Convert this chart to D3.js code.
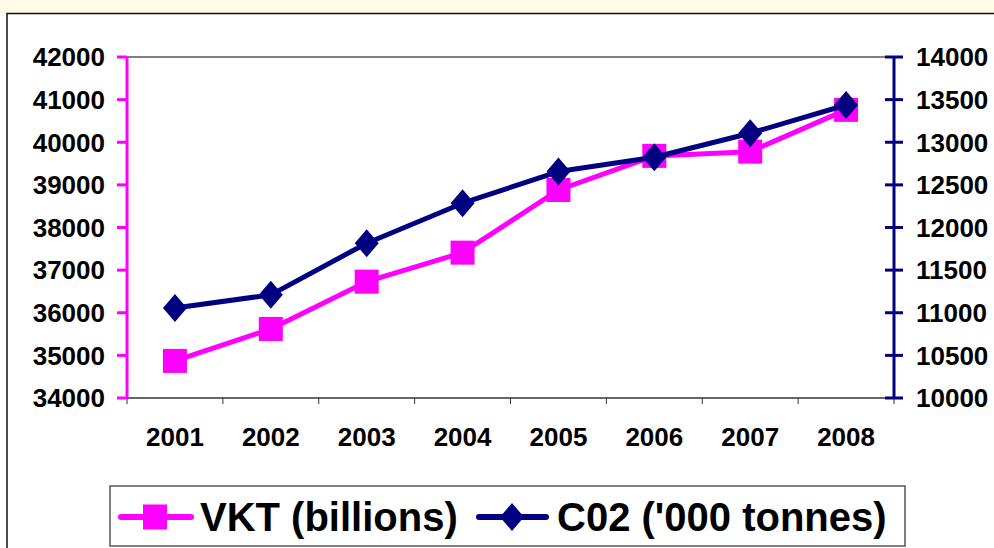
<!DOCTYPE html>
<html><head><meta charset="utf-8">
<script src="https://cdn.jsdelivr.net/npm/d3@7"></script>
<style>body{margin:0;background:#fff;}svg{display:block;font-family:"Liberation Sans",Arial,sans-serif;}</style>
</head><body><svg id="c" width="994" height="548"></svg>
<script>
const years = ["2001","2002","2003","2004","2005","2006","2007","2008"];
const vkt = [34870, 35620, 36730, 37410, 38880, 39680, 39780, 40760];
const co2 = [11055, 11210, 11816, 12285, 12656, 12824, 13106, 13437];
const leftTicks = [34000,35000,36000,37000,38000,39000,40000,41000,42000];
const rightTicks = [10000,10500,11000,11500,12000,12500,13000,13500,14000];
const seriesNames = ["VKT (billions)", "C02 ('000 tonnes)"];
const PINK = "#ff00ff", NAVY = "#000080";

const svg = d3.select("#c");
svg.append("rect").attr("x",0).attr("y",0).attr("width",994).attr("height",13).attr("fill","#fffbe8");
svg.append("path").attr("d","M7,548V13.5H994").attr("fill","none").attr("stroke","#111").attr("stroke-width",1.5);

const L=127, R=894, T=57, B=398;
const x = d3.scaleBand().domain(years).range([L,R]);
const yL = d3.scaleLinear().domain([34000,42000]).range([B,T]);
const yR = d3.scaleLinear().domain([10000,14000]).range([B,T]);

// plot area top border
svg.append("line").attr("x1",L).attr("x2",R).attr("y1",T).attr("y2",T).attr("stroke","#808080").attr("stroke-width",2);

// x axis
const gx = svg.append("g").attr("transform",`translate(0,${B})`);
gx.append("line").attr("x1",L).attr("x2",R).attr("stroke","#333").attr("stroke-width",1.5);
const bounds = years.map(d=>x(d)).concat([R]);
gx.selectAll("line.t").data(bounds).join("line").attr("class","t")
  .attr("x1",d=>d).attr("x2",d=>d).attr("y1",0).attr("y2",6).attr("stroke","#333").attr("stroke-width",1);
gx.selectAll("text").data(years).join("text")
  .attr("x",d=>x(d)+x.bandwidth()/2).attr("y",39).attr("dy","0.36em")
  .attr("text-anchor","middle").attr("font-size",26).attr("font-weight","bold").text(d=>d);

// left axis
const gl = svg.append("g");
gl.append("line").attr("x1",L).attr("x2",L).attr("y1",T).attr("y2",B).attr("stroke",PINK).attr("stroke-width",3);
gl.selectAll("line.t").data(leftTicks).join("line").attr("class","t")
  .attr("x1",L-10).attr("x2",L).attr("y1",d=>yL(d)).attr("y2",d=>yL(d)).attr("stroke",PINK).attr("stroke-width",3);
gl.selectAll("text").data(leftTicks).join("text")
  .attr("x",105).attr("y",d=>yL(d)).attr("dy","0.36em").attr("text-anchor","end")
  .attr("font-size",26).attr("font-weight","bold").text(d=>d);

// right axis
const gr = svg.append("g");
gr.append("line").attr("x1",R).attr("x2",R).attr("y1",T).attr("y2",B).attr("stroke",NAVY).attr("stroke-width",3);
gr.selectAll("line.t").data(rightTicks).join("line").attr("class","t")
  .attr("x1",R-9).attr("x2",R+9).attr("y1",d=>yR(d)).attr("y2",d=>yR(d)).attr("stroke",NAVY).attr("stroke-width",3);
gr.selectAll("text").data(rightTicks).join("text")
  .attr("x",916).attr("y",d=>yR(d)).attr("dy","0.36em").attr("text-anchor","start")
  .attr("font-size",26).attr("font-weight","bold").text(d=>d);

const cx = d => x(d)+x.bandwidth()/2;
// VKT
svg.append("path").datum(years).attr("fill","none").attr("stroke",PINK).attr("stroke-width",5).attr("stroke-linejoin","round")
  .attr("d", d3.line().x(d=>cx(d)).y((d,i)=>yL(vkt[i])));
svg.selectAll("rect.m").data(years).join("rect").attr("class","m")
  .attr("x",d=>cx(d)-12).attr("y",(d,i)=>yL(vkt[i])-12).attr("width",24).attr("height",24).attr("fill",PINK);
// CO2
svg.append("path").datum(years).attr("fill","none").attr("stroke",NAVY).attr("stroke-width",5).attr("stroke-linejoin","round")
  .attr("d", d3.line().x(d=>cx(d)).y((d,i)=>yR(co2[i])));
const diamond = (px,py)=>`M${px},${py-14}L${px+12},${py}L${px},${py+14}L${px-12},${py}Z`;
svg.selectAll("path.m").data(years).join("path").attr("class","m")
  .attr("d",(d,i)=>diamond(cx(d),yR(co2[i]))).attr("fill",NAVY);

// legend
const lg = svg.append("g");
lg.append("rect").attr("x",110).attr("y",486).attr("width",795).attr("height",60).attr("fill","#fff").attr("stroke","#555").attr("stroke-width",1.5);
const ly = 517;
lg.append("line").attr("x1",121).attr("x2",191).attr("y1",ly).attr("y2",ly).attr("stroke",PINK).attr("stroke-width",6).attr("stroke-linecap","round");
lg.append("rect").attr("x",143).attr("y",ly-12.5).attr("width",24).attr("height",25).attr("fill",PINK);
lg.append("text").attr("x",200).attr("y",ly).attr("dy","0.36em").attr("font-size",40).attr("font-weight","bold").text(seriesNames[0]);
lg.append("line").attr("x1",479).attr("x2",546).attr("y1",ly).attr("y2",ly).attr("stroke",NAVY).attr("stroke-width",6).attr("stroke-linecap","round");
lg.append("path").attr("d",diamond(512,ly)).attr("fill",NAVY);
lg.append("text").attr("x",557).attr("y",ly).attr("dy","0.36em").attr("font-size",40).attr("font-weight","bold").text(seriesNames[1]);
</script></body></html>
